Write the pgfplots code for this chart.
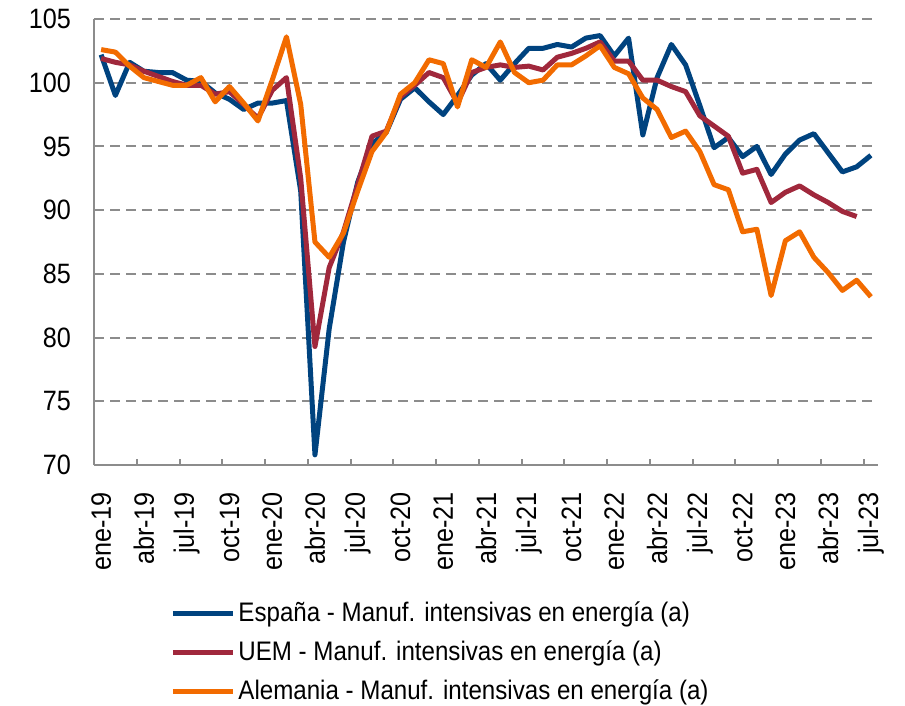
\documentclass[border=0pt]{standalone}
\usepackage{pgfplots}
\pgfplotsset{compat=1.18}
\usepackage{pgfplotstable}
\usepackage{fontspec}
\setmainfont{Liberation Sans}[FakeStretch=0.9]
\definecolor{cEsp}{HTML}{00437F}
\definecolor{cUem}{HTML}{A0283C}
\definecolor{cAle}{HTML}{F26B00}
\definecolor{gridgray}{HTML}{8C8C8C}
\pgfplotstableread{
x esp uem ale
0 102.2 101.9 102.6
1 99.0 101.6 102.4
2 101.6 101.4 101.3
3 100.9 100.9 100.4
4 100.8 100.5 100.1
5 100.8 100.1 99.8
6 100.2 99.8 99.8
7 100.1 99.8 100.4
8 99.2 99.1 98.5
9 98.7 99.3 99.7
10 97.9 98.3 98.4
11 98.4 97.2 97.0
12 98.4 99.4 100.2
13 98.6 100.4 103.6
14 91.5 92.5 98.3
15 70.8 79.3 87.5
16 80.7 85.5 86.3
17 87.5 88.3 88.2
18 92.2 92.0 91.5
19 95.2 95.8 94.6
20 96.1 96.2 96.1
21 98.7 98.9 99.1
22 99.6 99.8 100.0
23 98.5 100.8 101.8
24 97.5 100.4 101.5
25 99.0 98.4 98.1
26 100.6 100.8 101.8
27 101.5 101.2 101.2
28 100.2 101.4 103.2
29 101.5 101.2 100.8
30 102.7 101.3 100.0
31 102.7 101.0 100.2
32 103.0 102.0 101.4
33 102.8 102.3 101.4
34 103.5 102.7 102.1
35 103.7 103.2 102.9
36 102.1 101.7 101.2
37 103.5 101.7 100.7
38 95.9 100.2 98.8
39 100.4 100.2 97.9
40 103.0 99.7 95.7
41 101.4 99.3 96.2
42 98.2 97.4 94.6
43 94.9 96.6 92.0
44 95.7 95.8 91.6
45 94.2 92.9 88.3
46 95.0 93.2 88.5
47 92.8 90.6 83.3
48 94.4 91.4 87.6
49 95.5 91.9 88.3
50 96.0 91.2 86.3
51 94.5 90.6 85.1
52 93.0 89.9 83.7
53 93.4 89.5 84.5
54 94.3 nan 83.2
}\datatable

\begin{document}
\begin{tikzpicture}
\begin{axis}[
  scale only axis, width=392pt, height=223pt,
  xmin=-0.5, xmax=54.5, ymin=70, ymax=105,
  axis lines*=left,
  axis line style={gridgray, line width=1pt},
  xtick={0,3,...,54},
  xticklabels={ene-19,abr-19,jul-19,oct-19,ene-20,abr-20,jul-20,oct-20,ene-21,abr-21,jul-21,oct-21,ene-22,abr-22,jul-22,oct-22,ene-23,abr-23,jul-23},
  minor xtick={-0.5,2.5,...,53.5},
  ytick={70,75,...,105},
  major tick length=0pt,
  minor tick length=3pt,
  tick align=inside,
  tick style={gridgray, line width=1pt},
  x tick label style={rotate=90, anchor=east},
  xticklabel shift=10pt,
  yticklabel shift=8pt,
  ticklabel style={font=\fontsize{14}{16}\selectfont},
  /pgf/number format/assume math mode=true,
  ymajorgrids,
  major grid style={gridgray, line width=1pt, dash pattern=on 5pt off 3pt},
  legend cell align=left,
  legend style={draw=none, fill=none, at={(0.097,-0.297)}, anchor=north west,
    font=\fontsize{13.4}{15.5}\selectfont, row sep=4.1pt, inner sep=0pt,
    nodes={inner xsep=1.5pt}},
  legend image code/.code={\draw[#1] (0pt,0pt) -- (30pt,0pt);},
  every axis plot/.append style={line width=2.5pt, line join=round, no marks},
]
\addplot[cEsp] table[x=x, y=esp] {\datatable};
\addlegendentry{España - Manuf. intensivas en energía (a)}
\addplot[cUem] table[x=x, y=uem] {\datatable};
\addlegendentry{UEM - Manuf. intensivas en energía (a)}
\addplot[cAle] table[x=x, y=ale] {\datatable};
\addlegendentry{Alemania - Manuf. intensivas en energía (a)}
\coordinate (BL) at (rel axis cs:-0.1199,-0.5381);
\coordinate (TR) at (rel axis cs:1.0344,1.0426);
\end{axis}
\pgfresetboundingbox
\path (BL) rectangle (TR);
\end{tikzpicture}
\end{document}
